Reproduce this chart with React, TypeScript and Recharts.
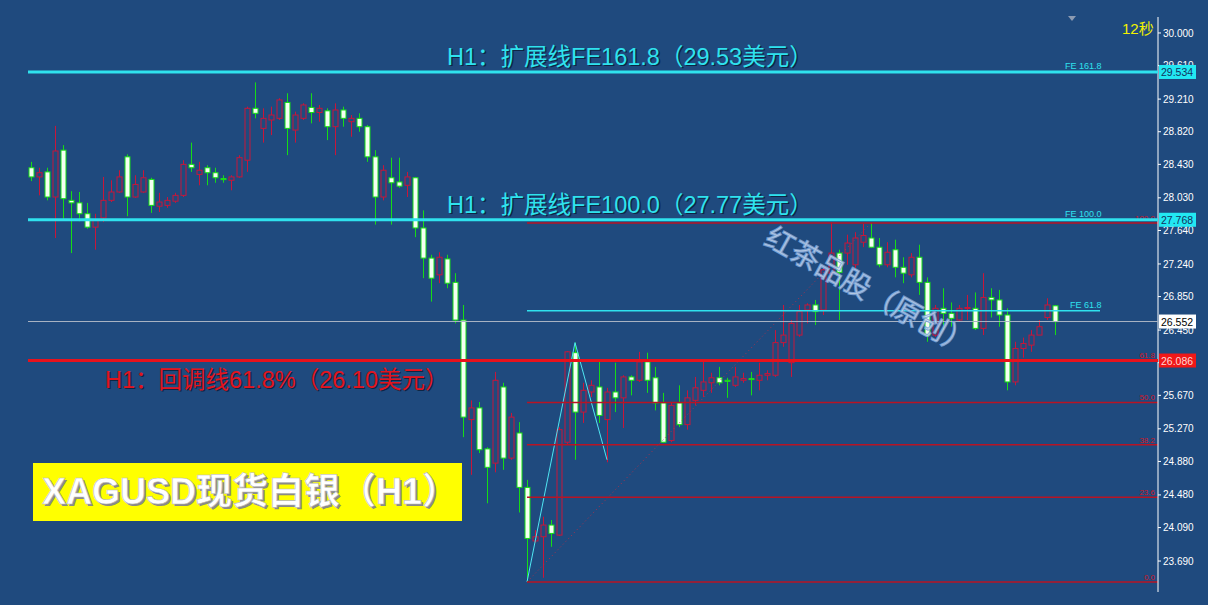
import { Bar, ComposedChart, Line, ReferenceLine, XAxis, YAxis } from "recharts";

// XAGUSD H1 candles
const opens = [
  28.39, 28.28, 28.34, 28.04, 28.6, 28.0, 27.97, 27.84, 27.68, 27.79,
  28.0, 28.1, 28.52, 28.04, 28.1, 28.25, 27.93, 27.94, 27.99, 28.06,
  28.43, 28.31, 28.39, 28.33, 28.26, 28.24, 28.28, 28.48, 29.1, 28.86,
  28.96, 28.98, 29.17, 28.84, 28.98, 29.11, 29.05, 29.07, 28.88, 29.08,
  28.94, 28.98, 28.88, 28.52, 28.04, 28.27, 28.22, 28.18, 28.27, 27.67,
  27.31, 27.11, 27.3, 27.02, 26.57, 25.38, 25.52, 25.03, 24.86, 25.77,
  24.92, 25.22, 24.57, 23.93, 23.98, 24.12, 24.0, 25.11, 26.18, 25.47,
  25.71, 25.77, 25.38, 25.71, 25.64, 25.89, 25.85, 26.07, 25.88, 25.58,
  25.13, 25.58, 25.32, 25.61, 25.73, 25.82, 25.88, 25.85, 25.79, 25.85,
  25.87, 25.85, 25.91, 25.91, 26.3, 26.06, 26.39, 26.69, 26.75, 26.69,
  27.13, 27.37, 27.37, 27.23, 27.5, 27.55, 27.44, 27.23, 27.41, 27.2,
  27.11, 27.32, 27.02, 26.39, 26.71, 26.65, 26.57, 26.71, 26.71, 26.47,
  26.84, 26.81, 26.63, 25.83, 26.23, 26.27, 26.39, 26.6, 26.74,
];
const highs = [
  28.46, 28.39, 28.39, 28.89, 28.66, 28.11, 28.1, 27.97, 27.84, 28.28,
  28.24, 28.36, 28.55, 28.3, 28.36, 28.27, 28.09, 28.04, 28.09, 28.48,
  28.69, 28.46, 28.42, 28.39, 28.3, 28.3, 28.54, 29.12, 29.41, 29.1,
  29.12, 29.22, 29.28, 29.06, 29.16, 29.28, 29.14, 29.1, 29.16, 29.12,
  29.02, 29.04, 28.9, 28.6, 28.42, 28.51, 28.51, 28.34, 28.28, 27.88,
  27.35, 27.38, 27.35, 27.13, 26.75, 25.61, 25.59, 25.05, 25.95, 25.82,
  25.46, 25.35, 24.66, 24.06, 24.22, 24.18, 25.29, 26.2, 26.3, 25.82,
  25.85, 26.07, 25.76, 26.06, 25.91, 25.91, 26.19, 26.18, 26.01, 25.7,
  25.59, 25.79, 25.73, 25.89, 26.09, 25.94, 26.01, 25.88, 26.01, 25.94,
  25.95, 26.06, 25.97, 26.45, 26.75, 26.57, 26.75, 26.77, 26.81, 27.2,
  27.74, 27.41, 27.59, 27.62, 27.72, 27.73, 27.55, 27.5, 27.53, 27.32,
  27.37, 27.47, 27.08, 26.75, 26.95, 26.78, 26.75, 26.87, 26.9, 27.13,
  26.95, 26.93, 26.71, 26.31, 26.36, 26.45, 26.57, 26.83, 26.75,
];
const lows = [
  28.23, 28.06, 28.0, 27.55, 27.78, 27.37, 27.75, 27.66, 27.41, 27.74,
  27.98, 28.09, 27.81, 28.03, 28.09, 27.85, 27.86, 27.91, 27.97, 28.04,
  28.34, 28.18, 28.18, 28.21, 28.21, 28.12, 28.27, 28.34, 28.98, 28.69,
  28.78, 28.96, 28.54, 28.69, 28.96, 28.92, 28.94, 28.72, 28.54, 28.88,
  28.76, 28.82, 28.46, 27.71, 28.0, 27.71, 28.15, 28.04, 27.56, 27.07,
  26.79, 27.01, 26.95, 26.53, 25.17, 24.72, 24.98, 24.38, 24.75, 24.78,
  24.9, 24.27, 23.44, 23.91, 23.49, 23.86, 23.99, 25.09, 24.9, 25.34,
  25.65, 25.34, 24.87, 25.47, 25.28, 25.67, 25.83, 25.7, 25.49, 25.1,
  25.11, 25.29, 25.26, 25.55, 25.65, 25.7, 25.79, 25.64, 25.77, 25.82,
  25.67, 25.73, 25.85, 25.89, 26.25, 25.89, 26.37, 26.53, 26.51, 26.63,
  27.08, 26.57, 27.23, 27.19, 27.44, 27.43, 27.2, 27.2, 27.08, 27.01,
  27.08, 26.87, 26.31, 26.37, 26.45, 26.49, 26.55, 26.57, 26.45, 26.39,
  26.6, 26.49, 25.73, 25.79, 26.12, 26.19, 26.39, 26.57, 26.39,
];
const closes = [
  28.28, 28.33, 28.04, 28.59, 28.02, 27.97, 27.84, 27.68, 27.77, 28.0,
  28.1, 28.28, 28.04, 28.19, 28.27, 27.94, 27.98, 28.0, 28.06, 28.43,
  28.39, 28.36, 28.33, 28.27, 28.25, 28.28, 28.51, 29.1, 29.04, 28.98,
  29.02, 29.2, 28.86, 29.02, 29.14, 29.05, 29.1, 28.88, 29.08, 28.98,
  28.98, 28.88, 28.52, 28.04, 28.36, 28.21, 28.17, 28.28, 27.67, 27.31,
  27.07, 27.32, 27.01, 26.57, 25.41, 25.52, 25.02, 24.81, 25.85, 24.92,
  25.41, 24.57, 23.96, 23.98, 24.12, 24.02, 25.26, 26.19, 25.47, 25.73,
  25.79, 25.43, 25.71, 25.64, 25.89, 25.85, 26.07, 25.85, 25.58, 25.11,
  25.55, 25.32, 25.64, 25.76, 25.83, 25.88, 25.82, 25.84, 25.89, 25.87,
  25.86, 25.91, 25.93, 26.3, 26.39, 26.53, 26.67, 26.75, 26.67, 27.17,
  27.37, 27.14, 27.49, 27.55, 27.58, 27.44, 27.23, 27.38, 27.2, 27.13,
  27.32, 27.02, 26.39, 26.71, 26.65, 26.59, 26.71, 26.72, 26.47, 26.84,
  26.81, 26.63, 25.83, 26.23, 26.29, 26.39, 26.49, 26.75, 26.55,
];

// cyan zigzag (swing low -> high -> low)
const zigzagIdx = [62, 68, 72];
const zigzagVal = [23.44, 26.3, 24.9];

const priceTicks = [
  30.0, 29.61, 29.21, 28.82, 28.43, 28.03, 27.64, 27.24, 26.85, 26.45,
  26.06, 25.67, 25.27, 24.88, 24.48, 24.09, 23.69,
];

// expansion / retracement levels
const feRatios = ["161.8", "100.0", "61.8"];
const fePrices = [29.534, 27.768, 26.68];
const lastPrice = 26.552;
const retracePrice = 26.086;
const fibLowIdx = 62;
const fibHighIdx = 105;
const fibLow = 23.44;
const fibHigh = 27.73;
const fibRatios = [100, 61.8, 50, 38.2, 23.6, 0];

const BG = "#1f4a7e";
const RED = "#c8163a";
const GREEN = "#16dc16";
const CYAN = "#2fe2ee";
const FONT = "'Liberation Sans', Arial, 'Noto Sans CJK SC', sans-serif";

const LINE_START = -0.375;
const X_MIN = -3.875;
const X_MAX = 140.875;
const FE618_END = 133.625;
const TOP_Z = 2500;

const rows = opens.map((o, i) => {
  const z = zigzagIdx.indexOf(i);
  return {
    i,
    o,
    h: highs[i],
    l: lows[i],
    c: closes[i],
    range: [lows[i], highs[i]],
    zz: z >= 0 ? zigzagVal[z] : null,
  };
});

function Candle(props: any) {
  const { x, y, width, height, payload } = props;
  if (!payload) return null;
  const { o, h, l, c } = payload;
  const top = Math.min(y, y + height);
  const span = Math.abs(height);
  const py = (v: number) => top + ((h - v) / (h - l || 1)) * span;
  const cx = Math.round(x + width / 2) + 0.5;
  const bull = c > o;
  const color = bull ? RED : GREEN;
  const bTop = py(Math.max(o, c));
  const bBot = py(Math.min(o, c));
  return (
    <g>
      <line x1={cx} x2={cx} y1={top} y2={top + span} stroke={color} strokeWidth={1} />
      <rect
        x={cx - 2.5}
        y={bTop}
        width={5}
        height={Math.max(bBot - bTop, 1)}
        fill={bull ? BG : "#f4fff2"}
        stroke={color}
        strokeWidth={1}
      />
    </g>
  );
}

function ShadowText({ x, y, size, fill, children, anchor = "start" }: any) {
  return (
    <g fontFamily={FONT} fontSize={size} textAnchor={anchor}>
      <text x={x + 1.5} y={y + 1.5} fill="#0a1c36" opacity={0.8}>
        {children}
      </text>
      <text x={x} y={y} fill={fill}>
        {children}
      </text>
    </g>
  );
}

function priceBox(vb: any, text: string, bg: string, fg: string) {
  const right = vb.x + vb.width;
  return (
    <g>
      <rect x={right + 1} y={vb.y - 7} width={37} height={14} fill={bg} />
      <text x={right + 3} y={vb.y + 4} fill={fg} fontSize={10.5} fontFamily={FONT}>
        {text}
      </text>
    </g>
  );
}

function feLabel(idx: number) {
  return (p: any) => {
    const vb = p.viewBox;
    const ratio = feRatios[idx];
    const price = fePrices[idx];
    if (idx === 2) {
      return (
        <text x={1070} y={vb.y - 3} fill={CYAN} fontSize={9} fontFamily={FONT}>
          {`FE ${ratio}`}
        </text>
      );
    }
    return (
      <g>
        <ShadowText x={447} y={vb.y - 7} size={23.5} fill={CYAN}>
          {`H1：扩展线FE${ratio}（${price.toFixed(2)}美元）`}
        </ShadowText>
        <text x={1065} y={vb.y - 3} fill={CYAN} fontSize={9} fontFamily={FONT}>
          {`FE ${ratio}`}
        </text>
        {priceBox(vb, price.toFixed(3), "#22e8f2", "#12325e")}
      </g>
    );
  };
}

function fibLabel(ratio: number) {
  return (p: any) => {
    const vb = p.viewBox;
    return (
      <text
        x={vb.x + vb.width - 3}
        y={vb.y - 2}
        fill="#d01828"
        fontSize={8}
        textAnchor="end"
        fontFamily={FONT}
      >
        {ratio.toFixed(1)}
      </text>
    );
  };
}

export default function App() {
  return (
    <div
      style={{
        position: "absolute",
        left: 0,
        top: 0,
        width: 1208,
        height: 605,
        background: BG,
        overflow: "hidden",
      }}
    >
      <ComposedChart
        width={1208}
        height={605}
        data={rows}
        margin={{ top: 17, right: 0, bottom: 13, left: 0 }}
      >
        <XAxis type="number" dataKey="i" domain={[X_MIN, X_MAX]} allowDataOverflow hide />
        <YAxis
          orientation="right"
          width={50}
          domain={[23.32, 30.191]}
          allowDataOverflow
          ticks={priceTicks}
          interval={0}
          tickFormatter={(v: number) => v.toFixed(3)}
          tick={{ fill: "#ffffff", fontSize: 10, fontFamily: FONT }}
          axisLine={{ stroke: "#ffffff" }}
          tickLine={{ stroke: "#ffffff" }}
          tickSize={3}
          tickMargin={2}
        />
        <Bar dataKey="range" barSize={5} shape={Candle} isAnimationActive={false} />
        <Line
          dataKey="zz"
          stroke="#4fe6f2"
          strokeWidth={1}
          dot={false}
          connectNulls
          isAnimationActive={false}
        />

        <ReferenceLine
          segment={[
            { x: fibLowIdx, y: fibLow },
            { x: fibHighIdx, y: fibHigh },
          ]}
          stroke="#b0304a"
          strokeDasharray="1 3"
        />

        {fibRatios.map((r) => (
          <ReferenceLine
            key={`fib${r}`}
            segment={[
              { x: fibLowIdx, y: fibLow + ((fibHigh - fibLow) * r) / 100 },
              { x: X_MAX, y: fibLow + ((fibHigh - fibLow) * r) / 100 },
            ]}
            stroke="#b81424"
            strokeWidth={1.5}
            label={fibLabel(r)}
          />
        ))}

        <ReferenceLine
          segment={[
            { x: fibLowIdx, y: fePrices[2] },
            { x: FE618_END, y: fePrices[2] },
          ]}
          stroke={CYAN}
          strokeWidth={1.5}
          label={feLabel(2)}
        />

        <ReferenceLine
          segment={[
            { x: LINE_START, y: lastPrice },
            { x: X_MAX, y: lastPrice },
          ]}
          stroke="#aab4c4"
          strokeWidth={1}
          zIndex={TOP_Z}
          label={(p: any) => priceBox(p.viewBox, lastPrice.toFixed(3), "#ffffff", "#000000")}
        />

        <ReferenceLine
          segment={[
            { x: LINE_START, y: retracePrice },
            { x: X_MAX, y: retracePrice },
          ]}
          stroke="#e8121c"
          strokeWidth={3}
          zIndex={TOP_Z}
          label={(p: any) => (
            <g>
              <ShadowText x={105} y={p.viewBox.y + 27} size={23.5} fill="#e2141e">
                H1：回调线61.8%（26.10美元）
              </ShadowText>
              {priceBox(p.viewBox, retracePrice.toFixed(3), "#f01818", "#ffd6d6")}
            </g>
          )}
        />

        {[0, 1].map((k) => (
          <ReferenceLine
            key={`fe${k}`}
            segment={[
              { x: LINE_START, y: fePrices[k] },
              { x: X_MAX, y: fePrices[k] },
            ]}
            stroke={CYAN}
            strokeWidth={3}
            zIndex={TOP_Z}
            label={feLabel(k)}
          />
        ))}
      </ComposedChart>

      <svg
        width={1208}
        height={605}
        style={{ position: "absolute", left: 0, top: 0, pointerEvents: "none" }}
      >
        <polygon points="1068,16 1076,16 1072,21" fill="#8c9bb2" />
        <text x={1122} y={34} fill="#f2f200" fontSize={15} fontFamily={FONT}>
          12秒
        </text>
        <text
          x={864}
          y={300}
          textAnchor="middle"
          transform="rotate(29 864 300)"
          fontSize={29}
          fontFamily="'Noto Sans CJK SC', sans-serif"
          fill="rgba(222,236,252,0.8)"
          stroke="rgba(120,160,215,0.8)"
          strokeWidth={1.2}
        >
          红茶品股（原创）
        </text>
        <rect x={33} y={463} width={429} height={58} fill="#ffff00" />
        <g fontFamily="'Liberation Sans', 'Noto Sans CJK SC', sans-serif" fontSize={36} fontWeight="bold">
          <text x={44} y={506} fill="#8a8a8a">
            XAGUSD现货白银（H1）
          </text>
          <text x={42} y={504} fill="#ffffff" stroke="#b8b8b8" strokeWidth={0.6}>
            XAGUSD现货白银（H1）
          </text>
        </g>
      </svg>
    </div>
  );
}
